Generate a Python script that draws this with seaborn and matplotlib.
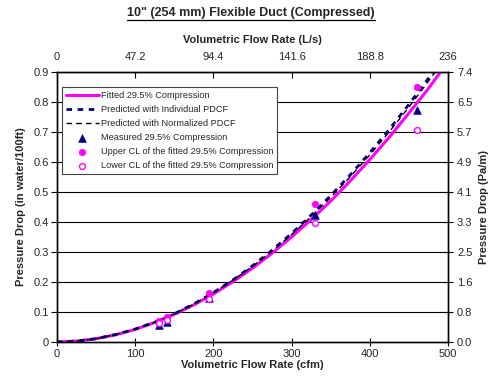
import matplotlib
matplotlib.use("Agg")
import matplotlib.pyplot as plt
from matplotlib.lines import Line2D
import seaborn as sns
import pandas as pd

# ---- data ----
flow_cfm = [0, 25, 50, 75, 100, 125, 150, 175, 200, 225, 250, 275, 300, 325, 350, 375, 400, 425, 450, 475, 500]
fitted = [0.0, 0.003, 0.011, 0.024, 0.042, 0.065, 0.092, 0.124, 0.160, 0.201, 0.246, 0.296, 0.350, 0.408,
          0.470, 0.537, 0.608, 0.683, 0.763, 0.845, 0.934]
pred_individual = [0.0, 0.003, 0.011, 0.025, 0.043, 0.066, 0.094, 0.127, 0.165, 0.207, 0.254, 0.306, 0.362, 0.423,
                   0.488, 0.557, 0.631, 0.709, 0.792, 0.879, 0.970]
pred_normalized = [0.0, 0.003, 0.011, 0.025, 0.043, 0.066, 0.094, 0.126, 0.164, 0.206, 0.252, 0.303, 0.358, 0.418,
                   0.482, 0.551, 0.624, 0.701, 0.783, 0.869, 0.959]
meas_cfm = [131, 141, 195, 330, 460]
measured = [0.056, 0.068, 0.147, 0.425, 0.772]
upper_cl = [0.071, 0.083, 0.162, 0.460, 0.850]
lower_cl = [0.064, 0.074, 0.143, 0.397, 0.708]

left_ticks = [0, 0.1, 0.2, 0.3, 0.4, 0.5, 0.6, 0.7, 0.8, 0.9]
left_labels = ["0", "0.1", "0.2", "0.3", "0.4", "0.5", "0.6", "0.7", "0.8", "0.9"]
right_labels = ["0.0", "0.8", "1.6", "2.5", "3.3", "4.1", "4.9", "5.7", "6.5", "7.4"]
bottom_ticks = [0, 100, 200, 300, 400, 500]
top_labels = ["0", "47.2", "94.4", "141.6", "188.8", "236"]

sns.set_style("white")
plt.rcParams['font.family'] = ['Liberation Sans', 'DejaVu Sans']

fig = plt.figure(figsize=(4.89, 3.81), dpi=100)
ax = fig.add_axes([57/489, 1-342/381, 391/489, 270/381])

curves = pd.DataFrame({"x": flow_cfm, "fit": fitted, "ind": pred_individual, "norm": pred_normalized})
pts = pd.DataFrame({"x": meas_cfm, "meas": measured, "up": upper_cl, "lo": lower_cl})

for yv in left_ticks[1:]:
    ax.axhline(yv, color="black", lw=0.8, zorder=0)

sns.lineplot(data=curves, x="x", y="fit", ax=ax, color="#FF00FF", lw=2.2, label="Fitted 29.5% Compression", zorder=3)
sns.lineplot(data=curves, x="x", y="ind", ax=ax, color="#000080", lw=2.0, label="Predicted with Individual PDCF", zorder=4)
ax.lines[-1].set_linestyle((0, (2.0, 2.0)))
sns.lineplot(data=curves, x="x", y="norm", ax=ax, color="black", lw=1.0, label="Predicted with Normalized PDCF", zorder=5)
ax.lines[-1].set_linestyle((0, (4, 3)))
sns.scatterplot(data=pts, x="x", y="meas", ax=ax, marker="^", color="#000080", s=30, edgecolor="#000080", linewidth=0.5,
                label="Measured 29.5% Compression", zorder=6)
sns.scatterplot(data=pts, x="x", y="up", ax=ax, marker="o", color="#FF00FF", s=22, edgecolor="#FF00FF", linewidth=0.5,
                label="Upper CL of the fitted 29.5% Compression", zorder=7)
sns.scatterplot(data=pts, x="x", y="lo", ax=ax, marker="o", facecolor="white", s=18, edgecolor="#FF00FF", linewidth=1.0,
                label="Lower CL of the fitted 29.5% Compression", zorder=7)

ax.set_xlim(0, 500)
ax.set_ylim(0, 0.9)
ax.set_xticks(bottom_ticks)
ax.set_yticks(left_ticks)
ax.set_yticklabels(left_labels)
ax.tick_params(axis="both", labelsize=8, length=4, width=0.8, color="black", direction="out", pad=2)
ax.tick_params(axis="x", direction="inout", length=6)
for s in ax.spines.values():
    s.set_color("black")
    s.set_linewidth(0.9)
ax.set_xlabel("Volumetric Flow Rate (cfm)", fontsize=8, fontweight="bold", labelpad=1)
ax.set_ylabel("Pressure Drop (in water/100ft)", fontsize=8, fontweight="bold", labelpad=5)

ax2 = ax.twinx()
ax2.set_ylim(0, 0.9)
ax2.set_yticks(left_ticks)
ax2.set_yticklabels(right_labels)
ax2.tick_params(axis="y", labelsize=8, length=7, width=0.8, direction="inout", pad=3, color="black")
ax2.set_ylabel("Pressure Drop (Pa/m)", fontsize=8, fontweight="bold", labelpad=5)

ax3 = ax.twiny()
ax3.set_xlim(0, 500)
ax3.set_xticks(bottom_ticks)
ax3.set_xticklabels(top_labels)
ax3.tick_params(axis="x", labelsize=8, length=4, width=0.8, direction="in", pad=7, color="black")
ax3.set_xlabel("Volumetric Flow Rate (L/s)", fontsize=8, fontweight="bold", labelpad=7)
for a in (ax2, ax3):
    for s in a.spines.values():
        s.set_color("black")
        s.set_linewidth(0.9)

handles, labels = ax.get_legend_handles_labels()
leg = ax.legend(handles, labels, loc="upper left", bbox_to_anchor=(0.012, 0.945), fontsize=6.6, frameon=True,
                fancybox=False, edgecolor="#444444", framealpha=1, borderpad=0.45, labelspacing=0.55,
                handlelength=3.6, handletextpad=0.2, borderaxespad=0)
leg.get_frame().set_linewidth(0.8)
leg.set_zorder(10)

title = fig.text(0.513, 1-13/381, '10" (254 mm) Flexible Duct (Compressed)', ha="center", va="center",
                 fontsize=9, fontweight="bold")
fig.canvas.draw()
bb = title.get_window_extent()
W, H = fig.bbox.width, fig.bbox.height
yline = (bb.y0 - 1) / H
fig.add_artist(Line2D([bb.x0 / W, bb.x1 / W], [yline, yline], color="black", lw=0.9, transform=fig.transFigure))

fig.savefig("out.png", dpi=100)
